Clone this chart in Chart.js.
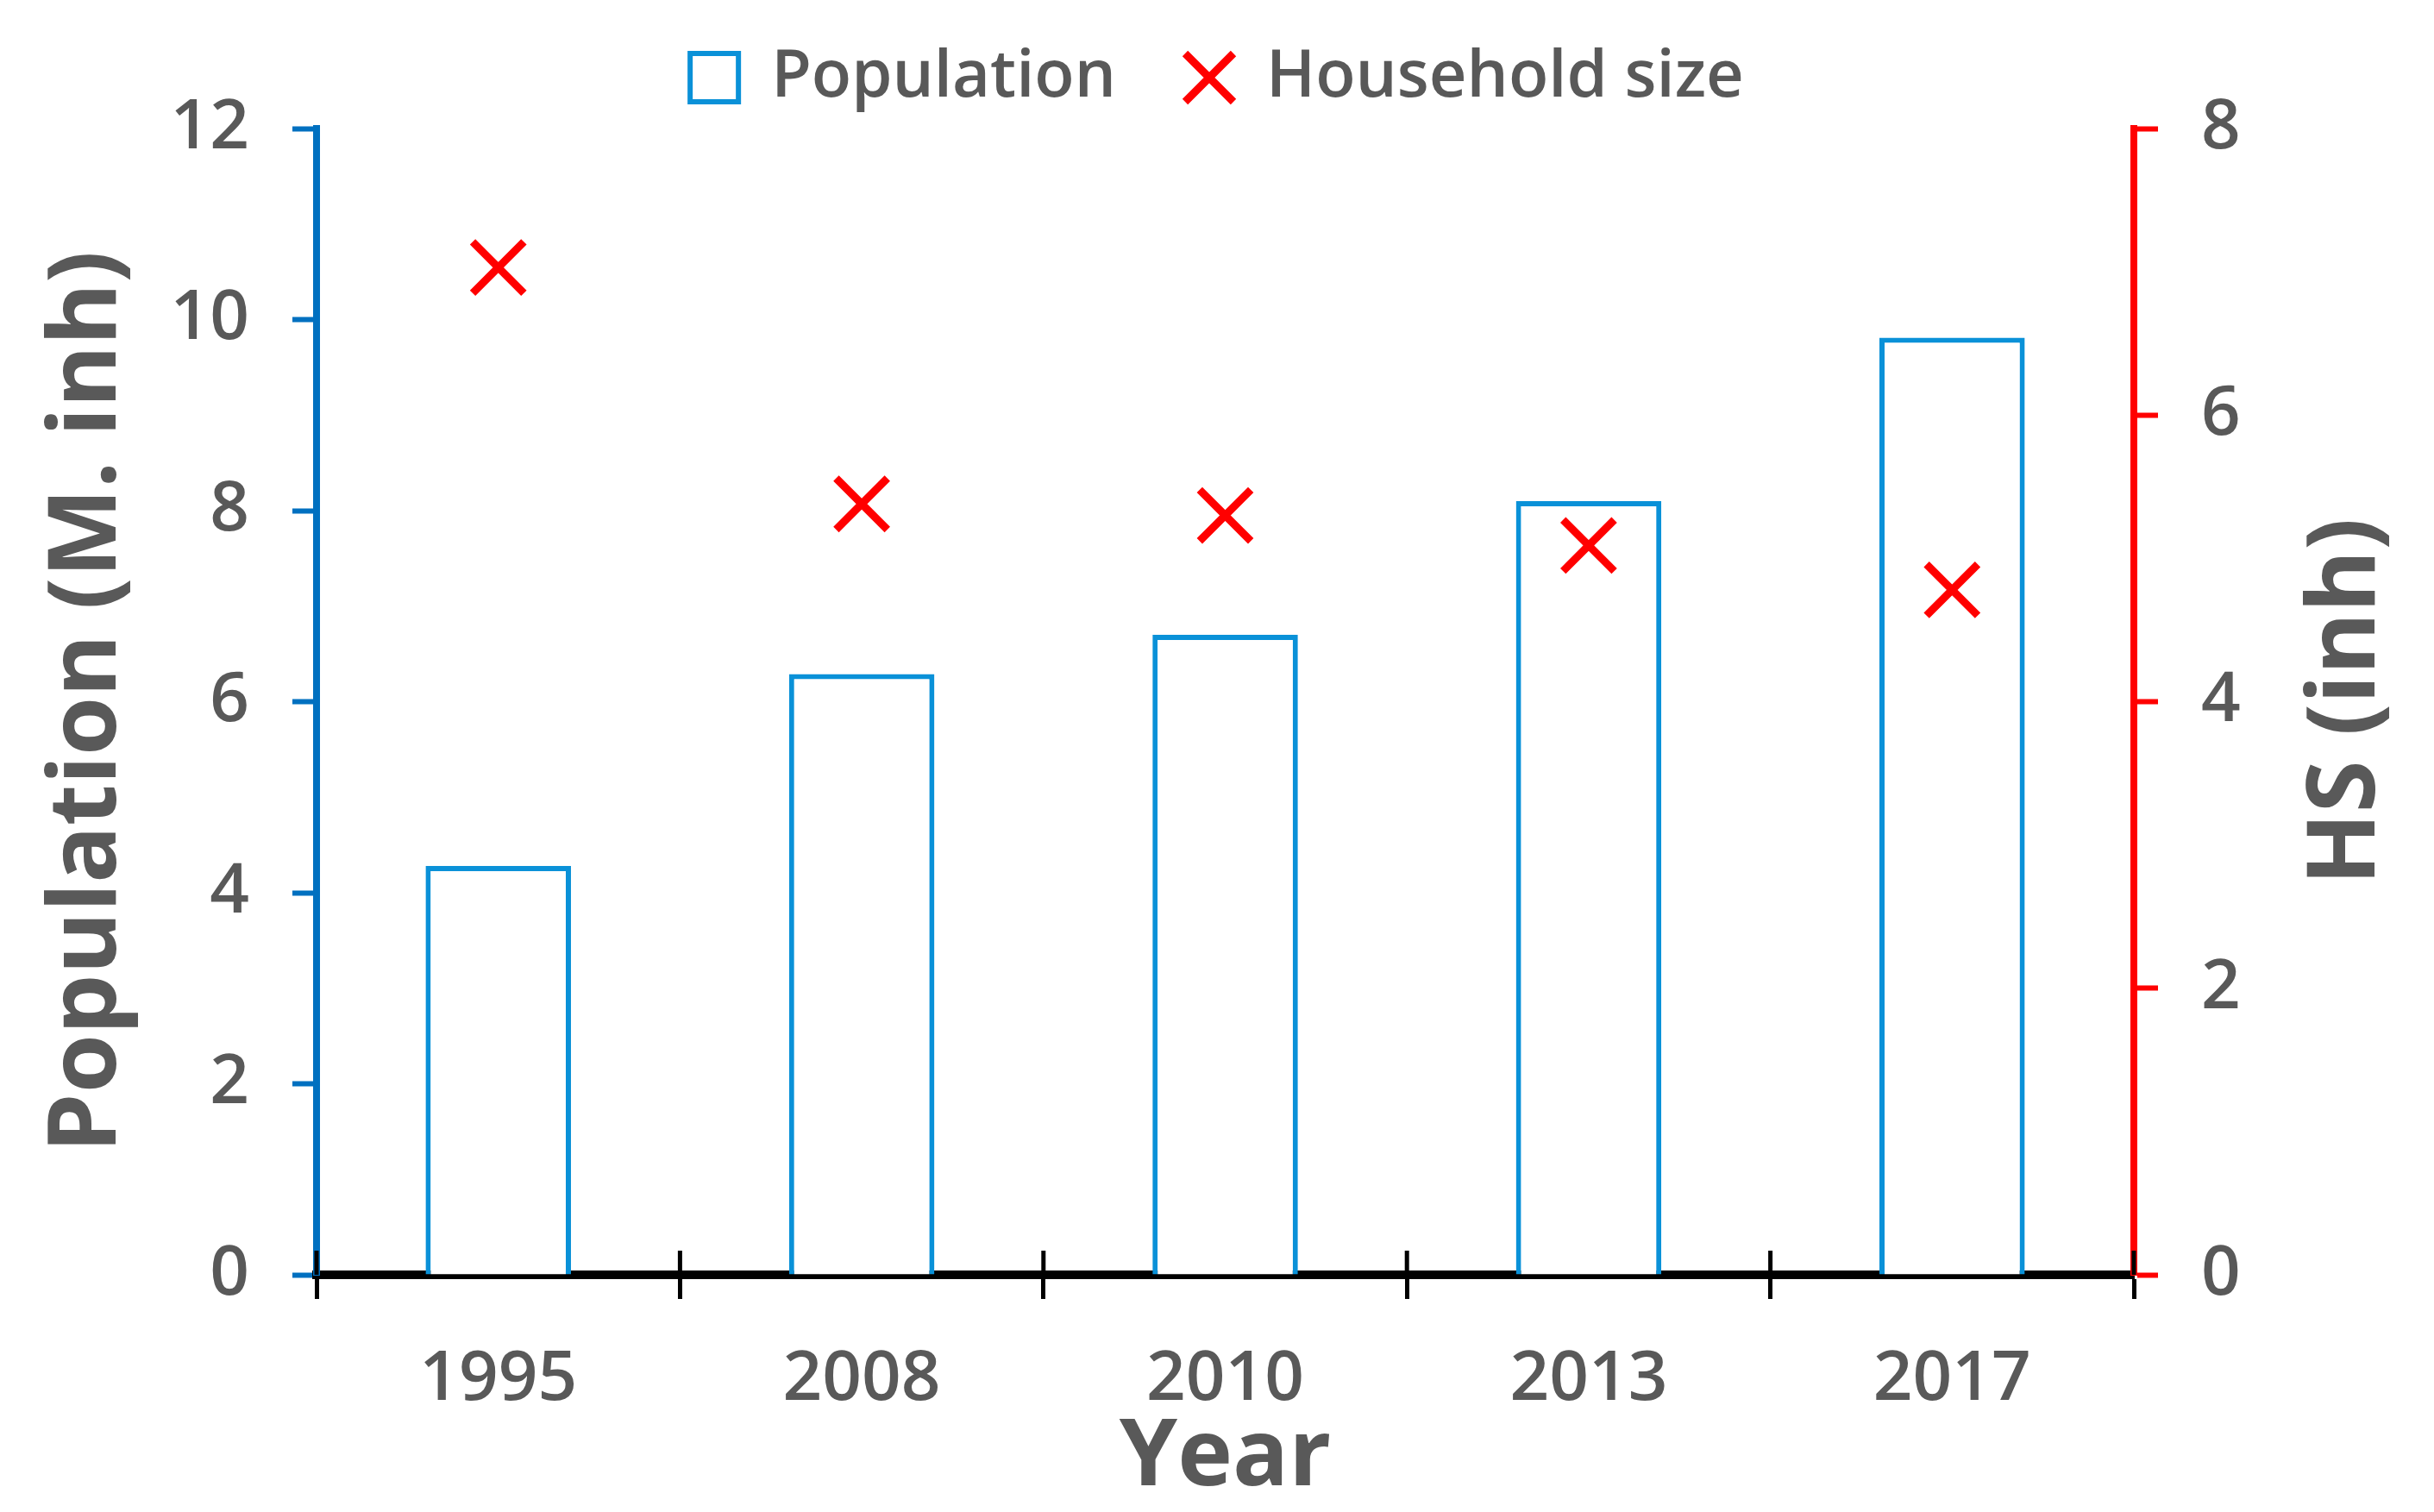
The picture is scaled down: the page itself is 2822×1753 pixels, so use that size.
<!DOCTYPE html>
<html>
<head>
<meta charset="utf-8">
<script src="https://cdn.jsdelivr.net/npm/chart.js@4/dist/chart.umd.min.js"></script>
<style>
  html, body { margin: 0; padding: 0; background: #fff; }
  #wrap { width: 2822px; height: 1753px; }
</style>
</head>
<body>
<div id="wrap"><canvas id="popChart"></canvas></div>
<script>
const YEARS = ['1995', '2008', '2010', '2013', '2017'];
const POPULATION = [4.28, 6.29, 6.70, 8.10, 9.81];
const HOUSEHOLD_SIZE = [7.03, 5.38, 5.30, 5.09, 4.78];
const POP_TICKS = [0, 2, 4, 6, 8, 10, 12];
const HS_TICKS = [0, 2, 4, 6, 8];

const TEXT_GREY = '#595959';
const FONT = '"Open Sans", "DejaVu Sans", sans-serif';
const BLUE_AXIS = '#0070C0';
const BAR_BLUE = '#0A91D8';
const RED = '#FF0000';
const X_TICK = 28;

// x axis ticks cross the axis line, draw the inner half here
const innerTicks = {
    id: 'innerTicks',
    afterDraw: function(chart) {
        const x = chart.scales.x;
        const ctx = chart.ctx;
        const step = x.width / YEARS.length;
        ctx.save();
        ctx.strokeStyle = '#000';
        ctx.lineWidth = 5;
        for (let i = 0; i <= YEARS.length; i++) {
            const px = x.left + i * step;
            ctx.beginPath();
            ctx.moveTo(px, x.top - X_TICK);
            ctx.lineTo(px, x.top);
            ctx.stroke();
        }
        ctx.restore();
    }
};

// right axis title reads bottom-to-top like the left one
const rightTitle = {
    id: 'rightTitle',
    afterDraw: function(chart) {
        const s = chart.scales.y2;
        const ctx = chart.ctx;
        ctx.save();
        ctx.translate(s.right - 100, (chart.chartArea.top + chart.chartArea.bottom) / 2);
        ctx.rotate(-Math.PI / 2);
        ctx.font = 'bold 110px ' + FONT;
        ctx.fillStyle = TEXT_GREY;
        ctx.textAlign = 'center';
        ctx.textBaseline = 'middle';
        ctx.fillText('HS (inh)', 0, 0);
        ctx.restore();
    }
};

// a little more room between the legend and the plot
const legendGap = {
    id: 'legendGap',
    afterInit: function(chart) {
        const legend = chart.legend;
        const fit = legend.fit;
        legend.fit = function() {
            fit.call(legend);
            legend.height += 11;
        };
    }
};

new Chart(document.getElementById('popChart').getContext('2d'), {
    data: {
        labels: YEARS,
        datasets: [{
            type: 'line',
            label: 'Household size',
            data: HOUSEHOLD_SIZE,
            yAxisID: 'y2',
            showLine: false,
            pointStyle: 'crossRot',
            pointRadius: 42,
            pointHoverRadius: 42,
            pointBorderWidth: 9,
            borderWidth: 9,
            borderColor: RED,
            backgroundColor: RED,
            order: 0
        }, {
            type: 'bar',
            label: 'Population',
            data: POPULATION,
            yAxisID: 'y',
            backgroundColor: '#fff',
            borderColor: BAR_BLUE,
            borderWidth: 6,
            pointStyle: 'rect',
            categoryPercentage: 1,
            barPercentage: 0.40,
            order: 1
        }]
    },
    options: {
        responsive: true,
        maintainAspectRatio: false,
        animation: false,
        layout: { padding: { top: -28, right: 0, bottom: 0, left: 0 } },
        plugins: {
            tooltip: { enabled: false },
            legend: {
                position: 'top',
                reverse: true,
                labels: {
                    usePointStyle: true,
                    boxWidth: 56,
                    boxHeight: 56,
                    padding: 80,
                    color: TEXT_GREY,
                    font: { family: FONT, size: 76, weight: '600' }
                }
            }
        },
        scales: {
            x: {
                offset: true,
                grid: {
                    offset: true,
                    drawOnChartArea: false,
                    tickLength: X_TICK,
                    tickWidth: 5,
                    tickColor: '#000'
                },
                border: { color: '#000', width: 10 },
                ticks: {
                    padding: 46,
                    color: TEXT_GREY,
                    font: { family: FONT, size: 80, weight: '600' }
                },
                title: {
                    display: true,
                    text: 'Year',
                    color: TEXT_GREY,
                    font: { family: FONT, size: 108, weight: 'bold', lineHeight: 1 },
                    padding: { top: 0, bottom: 8 }
                },
                afterFit: function(scale) { scale.height = 275; }
            },
            y: {
                position: 'left',
                min: 0,
                max: 12,
                afterBuildTicks: function(scale) {
                    scale.ticks = POP_TICKS.map(function(v) { return { value: v }; });
                },
                grid: {
                    drawOnChartArea: false,
                    tickLength: 28,
                    tickWidth: 6,
                    tickColor: BLUE_AXIS
                },
                border: { color: BLUE_AXIS, width: 8 },
                ticks: {
                    padding: 50,
                    color: TEXT_GREY,
                    font: { family: FONT, size: 80, weight: '600' }
                },
                title: {
                    display: true,
                    text: 'Population (M. inh)',
                    color: TEXT_GREY,
                    font: { family: FONT, size: 110, weight: 'bold', lineHeight: 1 },
                    padding: { top: 48, bottom: 0 }
                },
                afterFit: function(scale) { scale.width = 367; }
            },
            y2: {
                position: 'right',
                min: 0,
                max: 8,
                afterBuildTicks: function(scale) {
                    scale.ticks = HS_TICKS.map(function(v) { return { value: v }; });
                },
                grid: {
                    drawOnChartArea: false,
                    tickLength: 28,
                    tickWidth: 6,
                    tickColor: RED
                },
                border: { color: RED, width: 8 },
                ticks: {
                    padding: 50,
                    color: TEXT_GREY,
                    font: { family: FONT, size: 80, weight: '600' }
                },
                afterFit: function(scale) { scale.width = 348; }
            }
        }
    },
    plugins: [innerTicks, rightTitle, legendGap]
});
</script>
</body>
</html>
